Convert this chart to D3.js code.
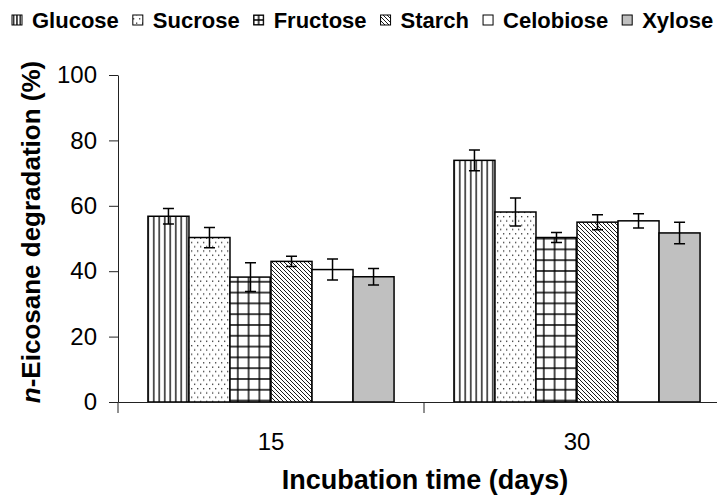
<!DOCTYPE html>
<html>
<head>
<meta charset="utf-8">
<script src="https://cdn.jsdelivr.net/npm/d3@7"></script>
<style>
	body { margin: 0; background: #fff; }
	svg { display: block; font-family: 'Liberation Sans', Arial, sans-serif; }
</style>
</head>
<body>
<div id="chart"></div>
<script>
var categories = ['15', '30']
var series = ['Glucose', 'Sucrose', 'Fructose', 'Starch', 'Celobiose', 'Xylose']
var values15 = [56.8, 50.3, 38.2, 43.0, 40.5, 38.3]
var errors15 = [2.4, 3.1, 4.4, 1.6, 3.2, 2.5]
var values30 = [73.9, 58.1, 50.3, 55.0, 55.4, 51.7]
var errors30 = [3.2, 4.3, 1.5, 2.3, 2.2, 3.3]
var yTicks = [0, 20, 40, 60, 80, 100]

var fills = ['url(#vlines)', 'url(#dots)', 'url(#grid)', 'url(#diag)', '#ffffff', '#c0c0c0']

var rows = categories.map(function(c, i) {
	var vals = [values15, values30][i]
	var errs = [errors15, errors30][i]
	return {
		label: c,
		bars: series.map(function(s, j) { return { cat: c, name: s, value: vals[j], err: errs[j], fill: fills[j] } })
	}
})

var width = 717, height = 500
var plot = { left: 118, top: 75, bottom: 402, right: 730 }

var svg = d3.select('#chart').append('svg')
	.attr('width', width)
	.attr('height', height)

// hatch patterns
var defs = svg.append('defs')
function vlinePattern(id, w, px) {
	var p = defs.append('pattern').attr('id', id)
		.attr('patternUnits', 'userSpaceOnUse').attr('x', px || 0).attr('width', w).attr('height', 10)
	p.append('rect').attr('width', w).attr('height', 10).attr('fill', '#fff')
	p.append('line').attr('x1', w / 2).attr('x2', w / 2).attr('y1', 0).attr('y2', 10)
		.attr('stroke', '#000').attr('stroke-width', 1.3)
}
function gridPattern(id, w, px, py) {
	var p = defs.append('pattern').attr('id', id)
		.attr('patternUnits', 'userSpaceOnUse').attr('x', px || 0).attr('y', py || 0)
		.attr('width', w).attr('height', w)
	p.append('rect').attr('width', w).attr('height', w).attr('fill', '#fff')
	p.append('path').attr('d', 'M1,0 V' + w + ' M0,1 H' + w)
		.attr('stroke', '#000').attr('stroke-width', 1.4).attr('fill', 'none')
}
vlinePattern('vlines', 5.5)
gridPattern('grid', 10.8)

var p = defs.append('pattern').attr('id', 'dots')
	.attr('patternUnits', 'userSpaceOnUse').attr('width', 6).attr('height', 8.6)
p.append('rect').attr('width', 6).attr('height', 8.6).attr('fill', '#fff')
p.append('rect').attr('x', 1).attr('y', 1).attr('width', 1.3).attr('height', 1.3).attr('fill', '#333')
p.append('rect').attr('x', 4).attr('y', 5.3).attr('width', 1.3).attr('height', 1.3).attr('fill', '#333')

p = defs.append('pattern').attr('id', 'diag')
	.attr('patternUnits', 'userSpaceOnUse').attr('width', 4).attr('height', 4)
p.append('rect').attr('width', 4).attr('height', 4).attr('fill', '#fff')
p.append('path').attr('d', 'M-1,-1 L5,5 M-1,3 L1,5 M3,-1 L5,1')
	.attr('stroke', '#000').attr('stroke-width', 0.9).attr('fill', 'none')

var x = d3.scaleBand()
	.domain(categories)
	.range([plot.left, plot.right])

var xInner = d3.scaleBand()
	.domain(series)
	.range([0, x.bandwidth()])
	.paddingOuter(0.73)

var y = d3.scaleLinear()
	.domain([0, 100])
	.range([plot.bottom, plot.top])

// bars
var groups = svg.append('g').selectAll('g').data(rows)
	.enter().append('g')
	.attr('transform', function(d) { return 'translate(' + x(d.label) + ',0)' })

groups.selectAll('rect').data(function(d) { return d.bars })
	.enter().append('rect')
	.attr('x', function(d) { return xInner(d.name) })
	.attr('y', function(d) { return y(d.value) })
	.attr('width', xInner.bandwidth())
	.attr('height', function(d) { return y(0) - y(d.value) })
	.attr('fill', function(d) { return d.fill })
	.attr('stroke', '#000')
	.attr('stroke-width', 1.5)

groups.selectAll('path.errbar').data(function(d) { return d.bars })
	.enter().append('path')
	.attr('class', 'errbar')
	.attr('fill', 'none')
	.attr('stroke', '#000')
	.attr('stroke-width', 1.5)
	.attr('d', function(d) {
		var xc = xInner(d.name) + xInner.bandwidth() / 2
		var yl = y(d.value - d.err)
		var yh = y(d.value + d.err)
		return 'M' + (xc - 5.5) + ',' + yl + ' h11 M' + xc + ',' + yl + ' V' + yh + ' M' + (xc - 5.5) + ',' + yh + ' h11'
	})

// y axis
var yAxis = d3.axisLeft(y)
	.tickValues(yTicks)
	.tickSizeInner(9)
	.tickSizeOuter(0)
	.tickPadding(12)
var gy = svg.append('g')
	.attr('transform', 'translate(' + plot.left + ',0)')
	.call(yAxis)
gy.selectAll('path, line').attr('stroke', '#222').attr('stroke-width', 1)
gy.selectAll('text').attr('font-size', '24px').attr('fill', '#000').attr('font-family', null)

// x axis (labels centred, ticks at category boundaries)
var xAxis = d3.axisBottom(x)
	.tickSize(0)
	.tickPadding(31)
var gx = svg.append('g')
	.attr('transform', 'translate(0,' + plot.bottom + ')')
	.call(xAxis)
gx.select('path').attr('stroke', '#222').attr('stroke-width', 1)
gx.selectAll('text').attr('font-size', '24px').attr('fill', '#000').attr('font-family', null)
gx.selectAll('line.bound').data(categories)
	.enter().append('line')
	.attr('class', 'bound')
	.attr('x1', function(d) { return x(d) })
	.attr('x2', function(d) { return x(d) })
	.attr('y1', 0)
	.attr('y2', 11)
	.attr('stroke', '#222')

// titles
svg.append('text')
	.attr('x', 425)
	.attr('y', 489)
	.attr('text-anchor', 'middle')
	.attr('font-size', '27px')
	.attr('font-weight', 'bold')
	.text('Incubation time (days)')

var yt = svg.append('text')
	.attr('transform', 'translate(40,232) rotate(-90)')
	.attr('text-anchor', 'middle')
	.attr('font-size', '26px')
	.attr('font-weight', 'bold')
yt.append('tspan').attr('font-style', 'italic').text('n')
yt.append('tspan').text('-Eicosane degradation (%)')

// legend (small swatches get their own finer hatch)
var legend = svg.append('g')
var lx = 12
series.forEach(function(s, i) {
	var fill = fills[i]
	if (i === 0) { vlinePattern('vlines-l', 3.3, lx); fill = 'url(#vlines-l)' }
	if (i === 2) { gridPattern('grid-l', 5, lx - 1, 14); fill = 'url(#grid-l)' }
	legend.append('rect')
		.attr('x', lx)
		.attr('y', 15)
		.attr('width', 10)
		.attr('height', 10)
		.attr('fill', fill)
		.attr('stroke', '#000')
		.attr('stroke-width', 1)
	var t = legend.append('text')
		.attr('x', lx + 20)
		.attr('y', 28)
		.attr('font-size', '22px')
		.attr('font-weight', 'bold')
		.text(s)
	lx = lx + 20 + t.node().getComputedTextLength() + 14
})
</script>
</body>
</html>
